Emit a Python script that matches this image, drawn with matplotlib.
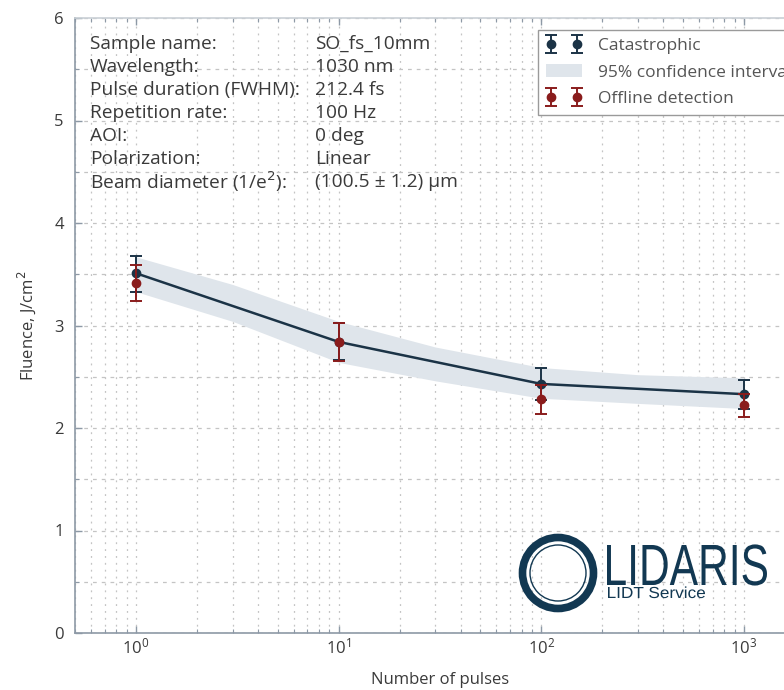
import matplotlib
matplotlib.use("Agg")
import matplotlib.pyplot as plt
from matplotlib.patches import Circle, PathPatch
from matplotlib.textpath import TextPath
from matplotlib.font_manager import FontProperties
from matplotlib.transforms import Affine2D
from matplotlib.ticker import LogLocator, MultipleLocator, NullFormatter
import numpy as np

plt.rcParams['font.family'] = ['Open Sans', 'DejaVu Sans']

# --- data -------------------------------------------------------------
pulses = [1, 10, 100, 1000]

cat_fluence = [3.51, 2.84, 2.43, 2.33]
cat_err_low = [0.18, 0.18, 0.16, 0.14]
cat_err_high = [0.17, 0.18, 0.16, 0.14]

off_fluence = [3.41, 2.84, 2.28, 2.22]
off_err_low = [0.17, 0.19, 0.14, 0.11]
off_err_high = [0.18, 0.18, 0.14, 0.11]

band_pulses = [1, 3, 10, 30, 100, 300, 1000]
band_upper = [3.67, 3.40, 3.04, 2.79, 2.59, 2.52, 2.49]
band_lower = [3.33, 3.04, 2.64, 2.46, 2.29, 2.24, 2.19]

info_labels = ["Sample name:", "Wavelength:", "Pulse duration (FWHM):",
               "Repetition rate:", "AOI:", "Polarization:",
               "Beam diameter (1/e$^2$):"]
info_values = ["SO_fs_10mm", "1030 nm", "212.4 fs", "100 Hz", "0 deg",
               "Linear", "(100.5 \u00b1 1.2) \u00b5m"]

# --- colours ----------------------------------------------------------
navy = "#1b3346"
red = "#8a1c1c"
band_col = "#dfe5eb"
text_col = "#3a3a3a"
spine_col = "#8d99a6"
grid_col = "#c4c4c4"
logo = "#123852"

W, H = 784, 690
fig = plt.figure(figsize=(W / 100, H / 100), dpi=100)
ax = fig.add_axes([75 / W, 1 - 633 / H, (805 - 75) / W, (633 - 18) / H])

ax.set_xscale('log')
ax.set_xlim(0.5, 2000)
ax.set_ylim(0, 6)

ax.fill_between(band_pulses, band_lower, band_upper, color=band_col,
                linewidth=0, zorder=1, label="95% confidence interval")
ax.plot(pulses, cat_fluence, color=navy, lw=1.8, zorder=2)
ax.errorbar(pulses, cat_fluence, yerr=[cat_err_low, cat_err_high], fmt='o',
            color=navy, ms=6, capsize=4, elinewidth=1.4, capthick=1.4,
            zorder=3, label="Catastrophic")
ax.errorbar(pulses, off_fluence, yerr=[off_err_low, off_err_high], fmt='o',
            color=red, ms=6, capsize=4, elinewidth=1.4, capthick=1.4,
            zorder=4, label="Offline detection")

# ticks and grid
ax.yaxis.set_major_locator(MultipleLocator(1))
ax.yaxis.set_minor_locator(MultipleLocator(0.5))
ax.xaxis.set_major_locator(LogLocator(base=10))
ax.xaxis.set_minor_locator(LogLocator(base=10, subs=np.arange(2, 10)))
ax.xaxis.set_minor_formatter(NullFormatter())
ax.tick_params(which='both', direction='in', top=True, right=True,
               colors=spine_col, labelcolor=text_col, labelsize=12)
ax.tick_params(which='major', length=5, width=1)
ax.tick_params(axis='y', which='major', pad=8)
ax.tick_params(which='minor', length=3, width=0.8)
ax.grid(True, axis='y', which='both', color=grid_col, lw=0.9,
        linestyle=(0, (3, 4)))
ax.grid(True, axis='x', which='both', color=grid_col, lw=0.9,
        linestyle=(0, (1.5, 4)))
ax.set_axisbelow(True)
for s in ax.spines.values():
    s.set_color(spine_col)
    s.set_linewidth(1.2)
ax.spines['top'].set_color("#c9d0d6")

ax.set_xlabel("Number of pulses", fontsize=12, color=text_col, labelpad=10)
ax.set_ylabel("Fluence, J/cm$^2$", fontsize=12, color=text_col, labelpad=12)

# sample information block
for i, (lab, val) in enumerate(zip(info_labels, info_values)):
    y = 1 - (44 + 23 * i) / H
    fig.text(90 / W, y, lab, fontsize=13.8, color=text_col, va='center')
    fig.text(315 / W, y, val, fontsize=13.8, color=text_col, va='center')

# legend
handles, labels = ax.get_legend_handles_labels()
order = [labels.index("Catastrophic"), labels.index("95% confidence interval"),
         labels.index("Offline detection")]
leg = ax.legend([handles[i] for i in order], [labels[i] for i in order],
                loc='upper left', bbox_to_anchor=(538 / W, 1 - 30 / H),
                bbox_transform=fig.transFigure, borderaxespad=0,
                numpoints=2, fancybox=False, framealpha=1,
                edgecolor="#9a9a9a", fontsize=12.5, labelcolor="#555555",
                handlelength=2.1, handletextpad=0.9, borderpad=0.45,
                labelspacing=0.6)
leg.get_frame().set_linewidth(1.0)

# logo: ring plus lettering, drawn on a pixel-coordinate overlay
ov = fig.add_axes([0, 0, 1, 1], zorder=5)
ov.set_xlim(0, W)
ov.set_ylim(0, H)
ov.axis('off')
cx, cy = 558, H - 573
ov.add_patch(Circle((cx, cy), 35.5, fill=False, lw=5.5, color=logo))
ov.add_patch(Circle((cx, cy), 28, fill=False, lw=1.0, color=logo))


def put_text(s, x0, y0, width, cap, family, weight):
    fp = FontProperties(family=family, weight=weight)
    tp = TextPath((0, 0), s, size=1, prop=fp)
    ext = tp.get_extents()
    capref = TextPath((0, 0), "L", size=1, prop=fp).get_extents()
    sx = width / ext.width
    sy = cap / capref.height
    tr = Affine2D().translate(-ext.x0, 0).scale(sx, sy).translate(x0, y0)
    ov.add_patch(PathPatch(tr.transform_path(tp), color=logo, lw=0))


put_text("LIDARIS", 607, H - 585, 160, 40, 'Liberation Sans', 'normal')
put_text("LIDT Service", 608, H - 598, 97, 11, 'Liberation Sans', 'normal')

fig.savefig("out.png", dpi=100)
